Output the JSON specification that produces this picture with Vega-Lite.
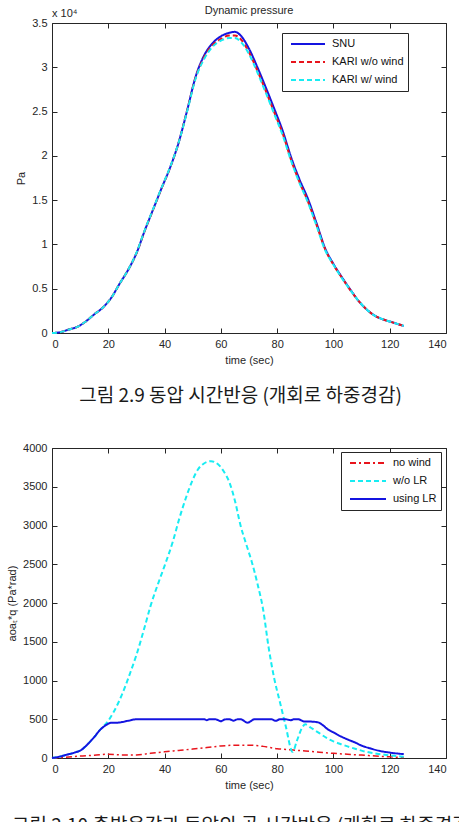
{
  "$schema": "https://vega.github.io/schema/vega-lite/v6.json",
  "background": "white",
  "padding": {"left": 6, "top": 4, "right": 0, "bottom": 0},
  "config": {
    "font": "Liberation Sans",
    "view": {"stroke": "#262626", "strokeWidth": 1},
    "axis": {
      "grid": false,
      "domain": false,
      "tickColor": "#262626",
      "tickSize": -5,
      "tickWidth": 1,
      "labelPadding": 10,
      "labelFont": "Liberation Sans",
      "labelFontSize": 11,
      "labelColor": "#262626",
      "titleFont": "Liberation Sans",
      "titleFontSize": 11,
      "titleFontWeight": "normal",
      "titleColor": "#262626",
      "titlePadding": 5
    },
    "legend": {
      "orient": "none",
      "title": null,
      "strokeColor": "#262626",
      "fillColor": "white",
      "padding": 4,
      "rowPadding": 4,
      "symbolType": "stroke",
      "symbolStrokeWidth": 2,
      "symbolOffset": 4,
      "labelOffset": 6,
      "labelFont": "Liberation Sans",
      "labelFontSize": 11,
      "labelColor": "#111111",
      "clipHeight": 14
    },
    "title": {"font": "Liberation Sans", "fontSize": 11, "fontWeight": "normal", "color": "#262626"},
    "line": {"interpolate": "monotone"}
  },
  "datasets": {
    "dyn": [
      {"t": 0, "series": "SNU", "q": 0}, {"t": 3, "series": "SNU", "q": 100}, {"t": 6, "series": "SNU", "q": 400},
      {"t": 9, "series": "SNU", "q": 700}, {"t": 12, "series": "SNU", "q": 1300}, {"t": 15, "series": "SNU", "q": 2100},
      {"t": 18, "series": "SNU", "q": 2850}, {"t": 21, "series": "SNU", "q": 3950}, {"t": 24, "series": "SNU", "q": 5550},
      {"t": 27, "series": "SNU", "q": 7100}, {"t": 30, "series": "SNU", "q": 9000}, {"t": 33, "series": "SNU", "q": 11600},
      {"t": 36, "series": "SNU", "q": 14000}, {"t": 39, "series": "SNU", "q": 16400}, {"t": 42, "series": "SNU", "q": 18700},
      {"t": 45, "series": "SNU", "q": 21500}, {"t": 48, "series": "SNU", "q": 25100}, {"t": 51, "series": "SNU", "q": 28900},
      {"t": 54, "series": "SNU", "q": 31300}, {"t": 57, "series": "SNU", "q": 32700}, {"t": 60, "series": "SNU", "q": 33500},
      {"t": 63, "series": "SNU", "q": 33900}, {"t": 65, "series": "SNU", "q": 34000}, {"t": 67, "series": "SNU", "q": 33600},
      {"t": 70, "series": "SNU", "q": 32100}, {"t": 73, "series": "SNU", "q": 30000}, {"t": 76, "series": "SNU", "q": 27700},
      {"t": 79, "series": "SNU", "q": 25300}, {"t": 82, "series": "SNU", "q": 22800}, {"t": 85, "series": "SNU", "q": 19800},
      {"t": 88, "series": "SNU", "q": 17300}, {"t": 91, "series": "SNU", "q": 15100}, {"t": 94, "series": "SNU", "q": 12400},
      {"t": 97, "series": "SNU", "q": 9600}, {"t": 100, "series": "SNU", "q": 7800}, {"t": 103, "series": "SNU", "q": 6300},
      {"t": 106, "series": "SNU", "q": 4900}, {"t": 109, "series": "SNU", "q": 3600}, {"t": 112, "series": "SNU", "q": 2600},
      {"t": 115, "series": "SNU", "q": 1900}, {"t": 118, "series": "SNU", "q": 1500}, {"t": 121, "series": "SNU", "q": 1200},
      {"t": 125, "series": "SNU", "q": 800},

      {"t": 0, "series": "KARI w/o wind", "q": 0}, {"t": 3, "series": "KARI w/o wind", "q": 100}, {"t": 6, "series": "KARI w/o wind", "q": 400},
      {"t": 9, "series": "KARI w/o wind", "q": 700}, {"t": 12, "series": "KARI w/o wind", "q": 1300}, {"t": 15, "series": "KARI w/o wind", "q": 2100},
      {"t": 18, "series": "KARI w/o wind", "q": 2850}, {"t": 21, "series": "KARI w/o wind", "q": 3950}, {"t": 24, "series": "KARI w/o wind", "q": 5550},
      {"t": 27, "series": "KARI w/o wind", "q": 7100}, {"t": 30, "series": "KARI w/o wind", "q": 9000}, {"t": 33, "series": "KARI w/o wind", "q": 11600},
      {"t": 36, "series": "KARI w/o wind", "q": 14000}, {"t": 39, "series": "KARI w/o wind", "q": 16400}, {"t": 42, "series": "KARI w/o wind", "q": 18700},
      {"t": 45, "series": "KARI w/o wind", "q": 21500}, {"t": 48, "series": "KARI w/o wind", "q": 25100}, {"t": 51, "series": "KARI w/o wind", "q": 28800},
      {"t": 54, "series": "KARI w/o wind", "q": 31100}, {"t": 57, "series": "KARI w/o wind", "q": 32500}, {"t": 60, "series": "KARI w/o wind", "q": 33200},
      {"t": 63, "series": "KARI w/o wind", "q": 33600}, {"t": 65, "series": "KARI w/o wind", "q": 33600}, {"t": 67, "series": "KARI w/o wind", "q": 33200},
      {"t": 70, "series": "KARI w/o wind", "q": 31700}, {"t": 73, "series": "KARI w/o wind", "q": 29600}, {"t": 76, "series": "KARI w/o wind", "q": 27300},
      {"t": 79, "series": "KARI w/o wind", "q": 24900}, {"t": 82, "series": "KARI w/o wind", "q": 22500}, {"t": 85, "series": "KARI w/o wind", "q": 19500},
      {"t": 88, "series": "KARI w/o wind", "q": 17000}, {"t": 91, "series": "KARI w/o wind", "q": 14800}, {"t": 94, "series": "KARI w/o wind", "q": 12200},
      {"t": 97, "series": "KARI w/o wind", "q": 9500}, {"t": 100, "series": "KARI w/o wind", "q": 7700}, {"t": 103, "series": "KARI w/o wind", "q": 6250},
      {"t": 106, "series": "KARI w/o wind", "q": 4850}, {"t": 109, "series": "KARI w/o wind", "q": 3600}, {"t": 112, "series": "KARI w/o wind", "q": 2600},
      {"t": 115, "series": "KARI w/o wind", "q": 1900}, {"t": 118, "series": "KARI w/o wind", "q": 1500}, {"t": 121, "series": "KARI w/o wind", "q": 1200},
      {"t": 125, "series": "KARI w/o wind", "q": 800},

      {"t": 0, "series": "KARI w/ wind", "q": 0}, {"t": 3, "series": "KARI w/ wind", "q": 100}, {"t": 6, "series": "KARI w/ wind", "q": 400},
      {"t": 9, "series": "KARI w/ wind", "q": 700}, {"t": 12, "series": "KARI w/ wind", "q": 1300}, {"t": 15, "series": "KARI w/ wind", "q": 2100},
      {"t": 18, "series": "KARI w/ wind", "q": 2850}, {"t": 21, "series": "KARI w/ wind", "q": 3950}, {"t": 24, "series": "KARI w/ wind", "q": 5550},
      {"t": 27, "series": "KARI w/ wind", "q": 7100}, {"t": 30, "series": "KARI w/ wind", "q": 9050}, {"t": 33, "series": "KARI w/ wind", "q": 11650},
      {"t": 36, "series": "KARI w/ wind", "q": 14050}, {"t": 39, "series": "KARI w/ wind", "q": 16450}, {"t": 42, "series": "KARI w/ wind", "q": 18750},
      {"t": 45, "series": "KARI w/ wind", "q": 21500}, {"t": 48, "series": "KARI w/ wind", "q": 25000}, {"t": 51, "series": "KARI w/ wind", "q": 28700},
      {"t": 54, "series": "KARI w/ wind", "q": 30900}, {"t": 57, "series": "KARI w/ wind", "q": 32300}, {"t": 60, "series": "KARI w/ wind", "q": 33000},
      {"t": 63, "series": "KARI w/ wind", "q": 33300}, {"t": 65, "series": "KARI w/ wind", "q": 33300}, {"t": 67, "series": "KARI w/ wind", "q": 32900},
      {"t": 70, "series": "KARI w/ wind", "q": 31500}, {"t": 73, "series": "KARI w/ wind", "q": 29400}, {"t": 76, "series": "KARI w/ wind", "q": 27100},
      {"t": 79, "series": "KARI w/ wind", "q": 24700}, {"t": 82, "series": "KARI w/ wind", "q": 22300}, {"t": 85, "series": "KARI w/ wind", "q": 19400},
      {"t": 88, "series": "KARI w/ wind", "q": 16900}, {"t": 91, "series": "KARI w/ wind", "q": 14700}, {"t": 94, "series": "KARI w/ wind", "q": 12100},
      {"t": 97, "series": "KARI w/ wind", "q": 9400}, {"t": 100, "series": "KARI w/ wind", "q": 7700}, {"t": 103, "series": "KARI w/ wind", "q": 6200},
      {"t": 106, "series": "KARI w/ wind", "q": 4850}, {"t": 109, "series": "KARI w/ wind", "q": 3600}, {"t": 112, "series": "KARI w/ wind", "q": 2600},
      {"t": 115, "series": "KARI w/ wind", "q": 1900}, {"t": 118, "series": "KARI w/ wind", "q": 1500}, {"t": 121, "series": "KARI w/ wind", "q": 1200},
      {"t": 125, "series": "KARI w/ wind", "q": 800}
    ],
    "aoaq": [
      {"t": 0, "series": "no wind", "v": 0}, {"t": 5, "series": "no wind", "v": 10}, {"t": 10, "series": "no wind", "v": 25},
      {"t": 15, "series": "no wind", "v": 35}, {"t": 20, "series": "no wind", "v": 50}, {"t": 25, "series": "no wind", "v": 40},
      {"t": 30, "series": "no wind", "v": 40}, {"t": 35, "series": "no wind", "v": 60}, {"t": 40, "series": "no wind", "v": 80},
      {"t": 45, "series": "no wind", "v": 98}, {"t": 50, "series": "no wind", "v": 116}, {"t": 55, "series": "no wind", "v": 135},
      {"t": 60, "series": "no wind", "v": 155}, {"t": 65, "series": "no wind", "v": 165}, {"t": 70, "series": "no wind", "v": 165},
      {"t": 75, "series": "no wind", "v": 150}, {"t": 80, "series": "no wind", "v": 120}, {"t": 85, "series": "no wind", "v": 105},
      {"t": 90, "series": "no wind", "v": 90}, {"t": 95, "series": "no wind", "v": 75}, {"t": 100, "series": "no wind", "v": 60},
      {"t": 105, "series": "no wind", "v": 48}, {"t": 110, "series": "no wind", "v": 38}, {"t": 115, "series": "no wind", "v": 25},
      {"t": 120, "series": "no wind", "v": 15}, {"t": 125, "series": "no wind", "v": 5},

      {"t": 0, "series": "w/o LR", "v": 0}, {"t": 3, "series": "w/o LR", "v": 20}, {"t": 5, "series": "w/o LR", "v": 40},
      {"t": 8, "series": "w/o LR", "v": 70}, {"t": 10, "series": "w/o LR", "v": 95}, {"t": 13, "series": "w/o LR", "v": 190},
      {"t": 15, "series": "w/o LR", "v": 270}, {"t": 17, "series": "w/o LR", "v": 360}, {"t": 20, "series": "w/o LR", "v": 480},
      {"t": 22, "series": "w/o LR", "v": 600}, {"t": 25, "series": "w/o LR", "v": 830}, {"t": 28, "series": "w/o LR", "v": 1120},
      {"t": 30, "series": "w/o LR", "v": 1330}, {"t": 33, "series": "w/o LR", "v": 1700}, {"t": 35, "series": "w/o LR", "v": 1960},
      {"t": 38, "series": "w/o LR", "v": 2280}, {"t": 40, "series": "w/o LR", "v": 2480}, {"t": 43, "series": "w/o LR", "v": 2800},
      {"t": 45, "series": "w/o LR", "v": 3060}, {"t": 48, "series": "w/o LR", "v": 3400}, {"t": 50, "series": "w/o LR", "v": 3590},
      {"t": 52, "series": "w/o LR", "v": 3730}, {"t": 54, "series": "w/o LR", "v": 3800}, {"t": 56.5, "series": "w/o LR", "v": 3830},
      {"t": 59, "series": "w/o LR", "v": 3790}, {"t": 61, "series": "w/o LR", "v": 3700}, {"t": 63, "series": "w/o LR", "v": 3560},
      {"t": 65, "series": "w/o LR", "v": 3320}, {"t": 67, "series": "w/o LR", "v": 3000}, {"t": 69, "series": "w/o LR", "v": 2760},
      {"t": 71, "series": "w/o LR", "v": 2530}, {"t": 73, "series": "w/o LR", "v": 2250}, {"t": 75, "series": "w/o LR", "v": 1920},
      {"t": 77, "series": "w/o LR", "v": 1420}, {"t": 79, "series": "w/o LR", "v": 1020}, {"t": 81, "series": "w/o LR", "v": 720},
      {"t": 83, "series": "w/o LR", "v": 420}, {"t": 85.5, "series": "w/o LR", "v": 80}, {"t": 87, "series": "w/o LR", "v": 220},
      {"t": 89, "series": "w/o LR", "v": 400}, {"t": 90, "series": "w/o LR", "v": 435}, {"t": 92, "series": "w/o LR", "v": 390},
      {"t": 95, "series": "w/o LR", "v": 320}, {"t": 98, "series": "w/o LR", "v": 250}, {"t": 100, "series": "w/o LR", "v": 215},
      {"t": 103, "series": "w/o LR", "v": 175}, {"t": 105, "series": "w/o LR", "v": 150}, {"t": 108, "series": "w/o LR", "v": 116},
      {"t": 110, "series": "w/o LR", "v": 95}, {"t": 113, "series": "w/o LR", "v": 70}, {"t": 116, "series": "w/o LR", "v": 52},
      {"t": 120, "series": "w/o LR", "v": 35}, {"t": 125, "series": "w/o LR", "v": 15},

      {"t": 0, "series": "using LR", "v": 0}, {"t": 3, "series": "using LR", "v": 20}, {"t": 5, "series": "using LR", "v": 40},
      {"t": 8, "series": "using LR", "v": 70}, {"t": 10, "series": "using LR", "v": 95}, {"t": 13, "series": "using LR", "v": 190},
      {"t": 15, "series": "using LR", "v": 270}, {"t": 17, "series": "using LR", "v": 360}, {"t": 19, "series": "using LR", "v": 420},
      {"t": 21, "series": "using LR", "v": 455}, {"t": 23, "series": "using LR", "v": 455}, {"t": 25, "series": "using LR", "v": 465},
      {"t": 27, "series": "using LR", "v": 480}, {"t": 30, "series": "using LR", "v": 500}, {"t": 40, "series": "using LR", "v": 500},
      {"t": 50, "series": "using LR", "v": 500}, {"t": 54, "series": "using LR", "v": 500}, {"t": 55, "series": "using LR", "v": 488},
      {"t": 56, "series": "using LR", "v": 500}, {"t": 58, "series": "using LR", "v": 500}, {"t": 60, "series": "using LR", "v": 475},
      {"t": 61.5, "series": "using LR", "v": 498}, {"t": 63, "series": "using LR", "v": 500}, {"t": 64.5, "series": "using LR", "v": 482},
      {"t": 66, "series": "using LR", "v": 500}, {"t": 67, "series": "using LR", "v": 500}, {"t": 69.5, "series": "using LR", "v": 456},
      {"t": 72, "series": "using LR", "v": 500}, {"t": 78, "series": "using LR", "v": 500}, {"t": 79.5, "series": "using LR", "v": 480},
      {"t": 81, "series": "using LR", "v": 500}, {"t": 83, "series": "using LR", "v": 500}, {"t": 84.8, "series": "using LR", "v": 488},
      {"t": 86, "series": "using LR", "v": 500}, {"t": 87.5, "series": "using LR", "v": 500}, {"t": 89.5, "series": "using LR", "v": 472},
      {"t": 92, "series": "using LR", "v": 470}, {"t": 94.5, "series": "using LR", "v": 460}, {"t": 96, "series": "using LR", "v": 430},
      {"t": 98, "series": "using LR", "v": 370}, {"t": 100, "series": "using LR", "v": 330}, {"t": 102, "series": "using LR", "v": 290},
      {"t": 105, "series": "using LR", "v": 240}, {"t": 108, "series": "using LR", "v": 195}, {"t": 110, "series": "using LR", "v": 160},
      {"t": 113, "series": "using LR", "v": 125}, {"t": 116, "series": "using LR", "v": 95}, {"t": 120, "series": "using LR", "v": 70},
      {"t": 125, "series": "using LR", "v": 50}
    ]
  },
  "spacing": 35,
  "resolve": {"scale": {"color": "independent", "strokeDash": "independent"}},
  "vconcat": [
    {
      "title": {
        "text": "그림 2.9 동압 시간반응 (개회로 하중경감)",
        "orient": "bottom",
        "anchor": "start",
        "frame": "bounds",
        "dx": 64,
        "offset": 21,
        "font": "Noto Sans CJK KR",
        "fontSize": 19,
        "fontWeight": "normal",
        "color": "#1a1a1a"
      },
      "vconcat": [
        {
          "title": {"text": "Dynamic pressure", "offset": -8, "frame": "group", "anchor": "middle"},
          "width": 394,
          "height": 310,
          "data": {"name": "dyn"},
          "layer": [
            {
              "transform": [{"filter": "datum.series == 'SNU'"}],
              "mark": {"type": "line", "strokeWidth": 2},
              "encoding": {
                "x": {"field": "t", "type": "quantitative", "scale": {"domain": [0, 140], "nice": false},
                      "axis": {"orient": "bottom", "values": [0, 20, 40, 60, 80, 100, 120, 140], "title": "time (sec)"}},
                "y": {"field": "q", "type": "quantitative", "scale": {"domain": [0, 35000], "nice": false},
                      "axis": {"orient": "left", "values": [0, 5000, 10000, 15000, 20000, 25000, 30000, 35000], "labelExpr": "'' + datum.value / 10000", "title": "Pa"}},
                "color": {"field": "series", "type": "nominal",
                          "scale": {"domain": ["SNU", "KARI w/o wind", "KARI w/ wind"], "range": ["#1414e0", "#e8141c", "#18ecf2"]},
                          "legend": {"legendX": 230, "legendY": 10, "symbolSize": 1156}},
                "strokeDash": {"field": "series", "type": "nominal",
                               "scale": {"domain": ["SNU", "KARI w/o wind", "KARI w/ wind"], "range": [[1, 0], [5, 3], [5, 3]]},
                               "legend": {"legendX": 230, "legendY": 10, "symbolSize": 1156}}
              }
            },
            {
              "transform": [{"filter": "datum.series != 'SNU'"}],
              "mark": {"type": "line", "strokeWidth": 2},
              "encoding": {
                "x": {"field": "t", "type": "quantitative",
                      "axis": {"orient": "top", "values": [0, 20, 40, 60, 80, 100, 120, 140], "labels": false, "title": null}},
                "y": {"field": "q", "type": "quantitative",
                      "axis": {"orient": "right", "values": [0, 5000, 10000, 15000, 20000, 25000, 30000, 35000], "labels": false, "title": null}},
                "color": {"field": "series", "type": "nominal"},
                "strokeDash": {"field": "series", "type": "nominal"}
              }
            },
            {
              "data": {"values": [{"t": 0, "q": 35000, "label": "x 10⁴"}]},
              "mark": {"type": "text", "align": "left", "baseline": "bottom", "dy": -4, "fontSize": 11, "color": "#262626"},
              "encoding": {
                "x": {"field": "t", "type": "quantitative", "axis": null},
                "y": {"field": "q", "type": "quantitative", "axis": null},
                "text": {"field": "label"}
              }
            }
          ],
          "resolve": {"axis": {"x": "independent", "y": "independent"}}
        }
      ]
    },
    {
      "title": {
        "text": "그림 2.10 총받음각과 동압의 곱 시간반응 (개회로 하중경감)",
        "orient": "bottom",
        "anchor": "start",
        "frame": "bounds",
        "dx": 6,
        "offset": 26,
        "font": "Noto Sans CJK KR",
        "fontSize": 19,
        "fontWeight": "normal",
        "color": "#1a1a1a"
      },
      "vconcat": [
        {
          "width": 394,
          "height": 310,
          "data": {"name": "aoaq"},
          "layer": [
            {
              "transform": [{"filter": "datum.series == 'no wind'"}],
              "mark": {"type": "line", "strokeWidth": 1.5},
              "encoding": {
                "x": {"field": "t", "type": "quantitative", "scale": {"domain": [0, 140], "nice": false},
                      "axis": {"orient": "bottom", "values": [0, 20, 40, 60, 80, 100, 120, 140], "title": "time (sec)"}},
                "y": {"field": "v", "type": "quantitative", "scale": {"domain": [0, 4000], "nice": false},
                      "axis": {"orient": "left", "values": [0, 500, 1000, 1500, 2000, 2500, 3000, 3500, 4000], "format": "d", "title": "aoaₜ*q (Pa*rad)"}},
                "color": {"field": "series", "type": "nominal",
                          "scale": {"domain": ["no wind", "w/o LR", "using LR"], "range": ["#e8141c", "#18ecf2", "#1414e0"]},
                          "legend": {"legendX": 289, "legendY": 4, "symbolSize": 1296}},
                "strokeDash": {"field": "series", "type": "nominal",
                               "scale": {"domain": ["no wind", "w/o LR", "using LR"], "range": [[6, 3, 2, 3], [5, 3], [1, 0]]},
                               "legend": {"legendX": 289, "legendY": 4, "symbolSize": 1296}}
              }
            },
            {
              "transform": [{"filter": "datum.series == 'w/o LR'"}],
              "mark": {"type": "line", "strokeWidth": 2},
              "encoding": {
                "x": {"field": "t", "type": "quantitative", "axis": null},
                "y": {"field": "v", "type": "quantitative", "axis": null},
                "color": {"field": "series", "type": "nominal"},
                "strokeDash": {"field": "series", "type": "nominal"}
              }
            },
            {
              "transform": [{"filter": "datum.series == 'using LR'"}],
              "mark": {"type": "line", "strokeWidth": 2},
              "encoding": {
                "x": {"field": "t", "type": "quantitative",
                      "axis": {"orient": "top", "values": [0, 20, 40, 60, 80, 100, 120, 140], "labels": false, "title": null}},
                "y": {"field": "v", "type": "quantitative",
                      "axis": {"orient": "right", "values": [0, 500, 1000, 1500, 2000, 2500, 3000, 3500, 4000], "labels": false, "title": null}},
                "color": {"field": "series", "type": "nominal"},
                "strokeDash": {"field": "series", "type": "nominal"}
              }
            }
          ],
          "resolve": {"axis": {"x": "independent", "y": "independent"}}
        }
      ]
    }
  ]
}
